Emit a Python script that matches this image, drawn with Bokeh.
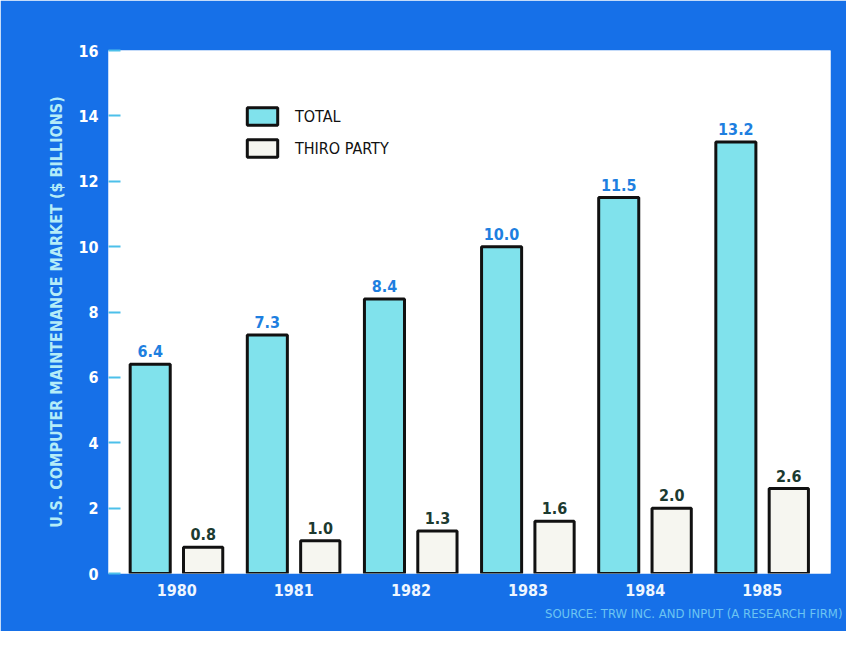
from bokeh.plotting import figure
from bokeh.models import Range1d, FixedTicker, Legend, LegendItem, Title, ColumnDataSource
from bokeh.transform import dodge
from bokeh.core.properties import value
from bokeh.embed import file_html
from bokeh.resources import INLINE

years = ["1980", "1981", "1982", "1983", "1984", "1985"]
total = [6.4, 7.3, 8.4, 10.0, 11.5, 13.2]
third_party = [0.8, 1.0, 1.3, 1.6, 2.0, 2.6]
y_ticks = [0, 2, 4, 6, 8, 10, 12, 14, 16]

idx = list(range(len(years)))
src = ColumnDataSource(dict(
    idx=idx, years=years, total=total, third=third_party,
    total_lbl=[f"{v:.1f}" for v in total],
    third_lbl=[f"{v:.1f}" for v in third_party],
))

FONT = "'Liberation Sans Narrow', 'DejaVu Sans Condensed', sans-serif"
BLUE = "#1670e8"

p = figure(width=846, height=631, output_backend="svg", toolbar_location=None,
           x_range=Range1d(-0.582, 5.582), y_range=Range1d(0, 16),
           min_border_left=108, min_border_top=50, min_border_right=16, min_border_bottom=58)
p.background_fill_color = "white"
p.border_fill_color = BLUE
p.outline_line_color = None
p.xgrid.visible = False
p.ygrid.visible = False

r_total = p.vbar(x=dodge("idx", -0.226, range=p.x_range), top="total", width=0.342, source=src,
                 fill_color="#80e2ec", line_color="#111111", line_width=3)
r_third = p.vbar(x=dodge("idx", 0.226, range=p.x_range), top="third", width=0.335, source=src,
                 fill_color="#f6f6f0", line_color="#111111", line_width=3)

p.text(x=dodge("idx", -0.226, range=p.x_range), y="total", text="total_lbl", source=src,
       text_align="center", text_baseline="bottom", y_offset=-7,
       text_font=value(FONT), text_font_size="16px", text_font_style="bold", text_color="#1e7fe0")
p.text(x=dodge("idx", 0.226, range=p.x_range), y="third", text="third_lbl", source=src,
       text_align="center", text_baseline="bottom", y_offset=-7,
       text_font=value(FONT), text_font_size="16px", text_font_style="bold", text_color="#1c3a30")

# Y axis
ya = p.yaxis[0]
ya.ticker = FixedTicker(ticks=y_ticks)
ya.axis_line_color = None
ya.major_tick_in = 12
ya.major_tick_out = 0
ya.major_tick_line_color = "#4cc0ea"
ya.major_tick_line_width = 2
ya.minor_tick_line_color = None
ya.major_label_text_color = "white"
ya.major_label_text_font = FONT
ya.major_label_text_font_size = "16px"
ya.major_label_text_font_style = "bold"
ya.major_label_standoff = 10
ya.axis_label = "U.S. COMPUTER MAINTENANCE MARKET ($ BILLIONS)"
ya.axis_label_text_color = "#b4ecf8"
ya.axis_label_text_font = FONT
ya.axis_label_text_font_size = "16px"
ya.axis_label_text_font_style = "bold"
ya.axis_label_standoff = 9

# X axis
xa = p.xaxis[0]
xa.ticker = FixedTicker(ticks=idx)
xa.major_label_overrides = {i: y for i, y in zip(idx, years)}
xa.axis_line_color = None
xa.major_tick_line_color = None
xa.minor_tick_line_color = None
xa.major_tick_in = 0
xa.major_tick_out = 0
xa.major_label_text_color = "#eef6ff"
xa.major_label_text_font = FONT
xa.major_label_text_font_size = "16px"
xa.major_label_text_font_style = "bold"
xa.major_label_standoff = 10

legend = Legend(items=[LegendItem(label="TOTAL", renderers=[r_total]),
                       LegendItem(label="THIRO PARTY", renderers=[r_third])],
                location=(135, 414), glyph_width=38, glyph_height=22, spacing=10,
                padding=0, margin=0, label_standoff=14,
                background_fill_alpha=0, border_line_color=None,
                label_text_font=FONT, label_text_font_size="16px", label_text_color="#111111")
p.add_layout(legend, "center")

src_title = Title(text="SOURCE: TRW INC. AND INPUT (A RESEARCH FIRM)", align="right",
                  text_color="#6cc4f2", text_font=FONT, text_font_size="13px",
                  text_font_style="normal", offset=-12, standoff=10)
p.add_layout(src_title, "below")

open("out.html", "w").write(file_html(p, INLINE))
